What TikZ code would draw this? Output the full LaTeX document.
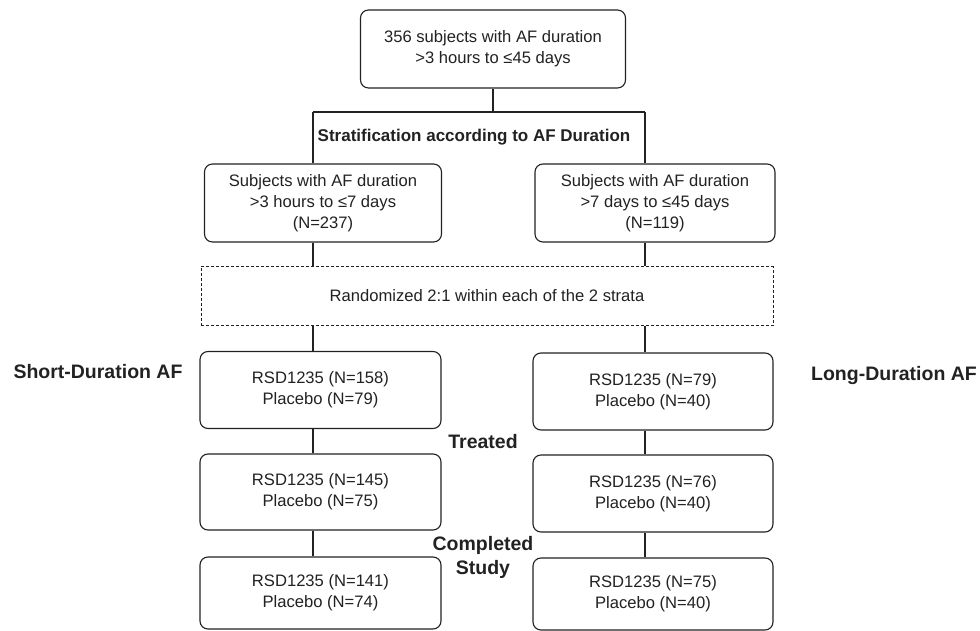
\documentclass[tikz,border=0pt]{standalone}
\usepackage{fontspec}
\setmainfont{Liberation Sans}
\usetikzlibrary{calc}
\definecolor{ink}{HTML}{222222}
\tikzset{
  box/.style={draw=ink, line width=1.1pt, rounded corners=8pt, align=center, inner sep=0pt,
    text=ink, font=\fontsize{16.6}{21}\selectfont},
  dbox/.style={draw=ink, line width=1pt, dash pattern=on 3pt off 2pt, align=center, inner sep=0pt,
    text=ink, font=\fontsize{16.6}{21}\selectfont},
  lbl/.style={align=center, inner sep=0pt, text=ink, font=\fontsize{19.5}{24}\selectfont\bfseries},
  conn/.style={draw=ink, line width=1.1pt}
}
\begin{document}
\begin{tikzpicture}[x=1pt,y=-1pt]
\path[use as bounding box, fill=white] (0,0) rectangle (980,631);
\node[box, minimum width=265pt, minimum height=78pt] (top) at (493,49)
  {356 subjects with AF duration\\>3 hours to ≤45 days};
\node[lbl, font=\fontsize{17}{21}\selectfont\bfseries] (strat) at (474,137) {Stratification according to AF Duration};
\node[box, minimum width=237pt, minimum height=78pt] (ls) at (323,203)
  {Subjects with AF duration\\>3 hours to ≤7 days\\(N=237)};
\node[box, minimum width=240pt, minimum height=78pt] (rs) at (655,203)
  {Subjects with AF duration\\>7 days to ≤45 days\\(N=119)};
\node[dbox, minimum width=572pt, minimum height=59pt] (rand) at (487,296)
  {Randomized 2:1 within each of the 2 strata};
\node[box, minimum width=241pt, minimum height=77pt] (l1) at (320.5,390)
  {RSD1235 (N=158)\\Placebo (N=79)};
\node[box, minimum width=241pt, minimum height=76pt] (l2) at (320.5,492)
  {RSD1235 (N=145)\\Placebo (N=75)};
\node[box, minimum width=241pt, minimum height=72pt] (l3) at (320.5,593)
  {RSD1235 (N=141)\\Placebo (N=74)};
\node[box, minimum width=240pt, minimum height=77pt] (r1) at (653,391.5)
  {RSD1235 (N=79)\\Placebo (N=40)};
\node[box, minimum width=240pt, minimum height=77pt] (r2) at (653,493.5)
  {RSD1235 (N=76)\\Placebo (N=40)};
\node[box, minimum width=240pt, minimum height=72pt] (r3) at (653,594)
  {RSD1235 (N=75)\\Placebo (N=40)};
\node[lbl] (short) at (98,372) {Short-Duration AF};
\node[lbl] (long) at (894,376) {Long-Duration AF};
\node[lbl] (treated) at (483,442) {Treated};
\node[lbl] (completed) at (483,557) {Completed\\Study};
\coordinate (cl) at (313,0);
\coordinate (cr) at (645,0);
\coordinate (j) at (493,112);
\draw[conn] (top.south) -- (j);
\draw[conn] (j -| cl) -- (j -| cr);
\draw[conn] (j -| cl) -- (ls.north -| cl);
\draw[conn] (j -| cr) -- (rs.north -| cr);
\draw[conn] (ls.south -| cl) -- (rand.north -| cl);
\draw[conn] (rs.south -| cr) -- (rand.north -| cr);
\draw[conn] (rand.south -| cl) -- (l1.north -| cl);
\draw[conn] (rand.south -| cr) -- (r1.north -| cr);
\draw[conn] (l1.south -| cl) -- (l2.north -| cl);
\draw[conn] (l2.south -| cl) -- (l3.north -| cl);
\draw[conn] (r1.south -| cr) -- (r2.north -| cr);
\draw[conn] (r2.south -| cr) -- (r3.north -| cr);
\end{tikzpicture}
\end{document}
